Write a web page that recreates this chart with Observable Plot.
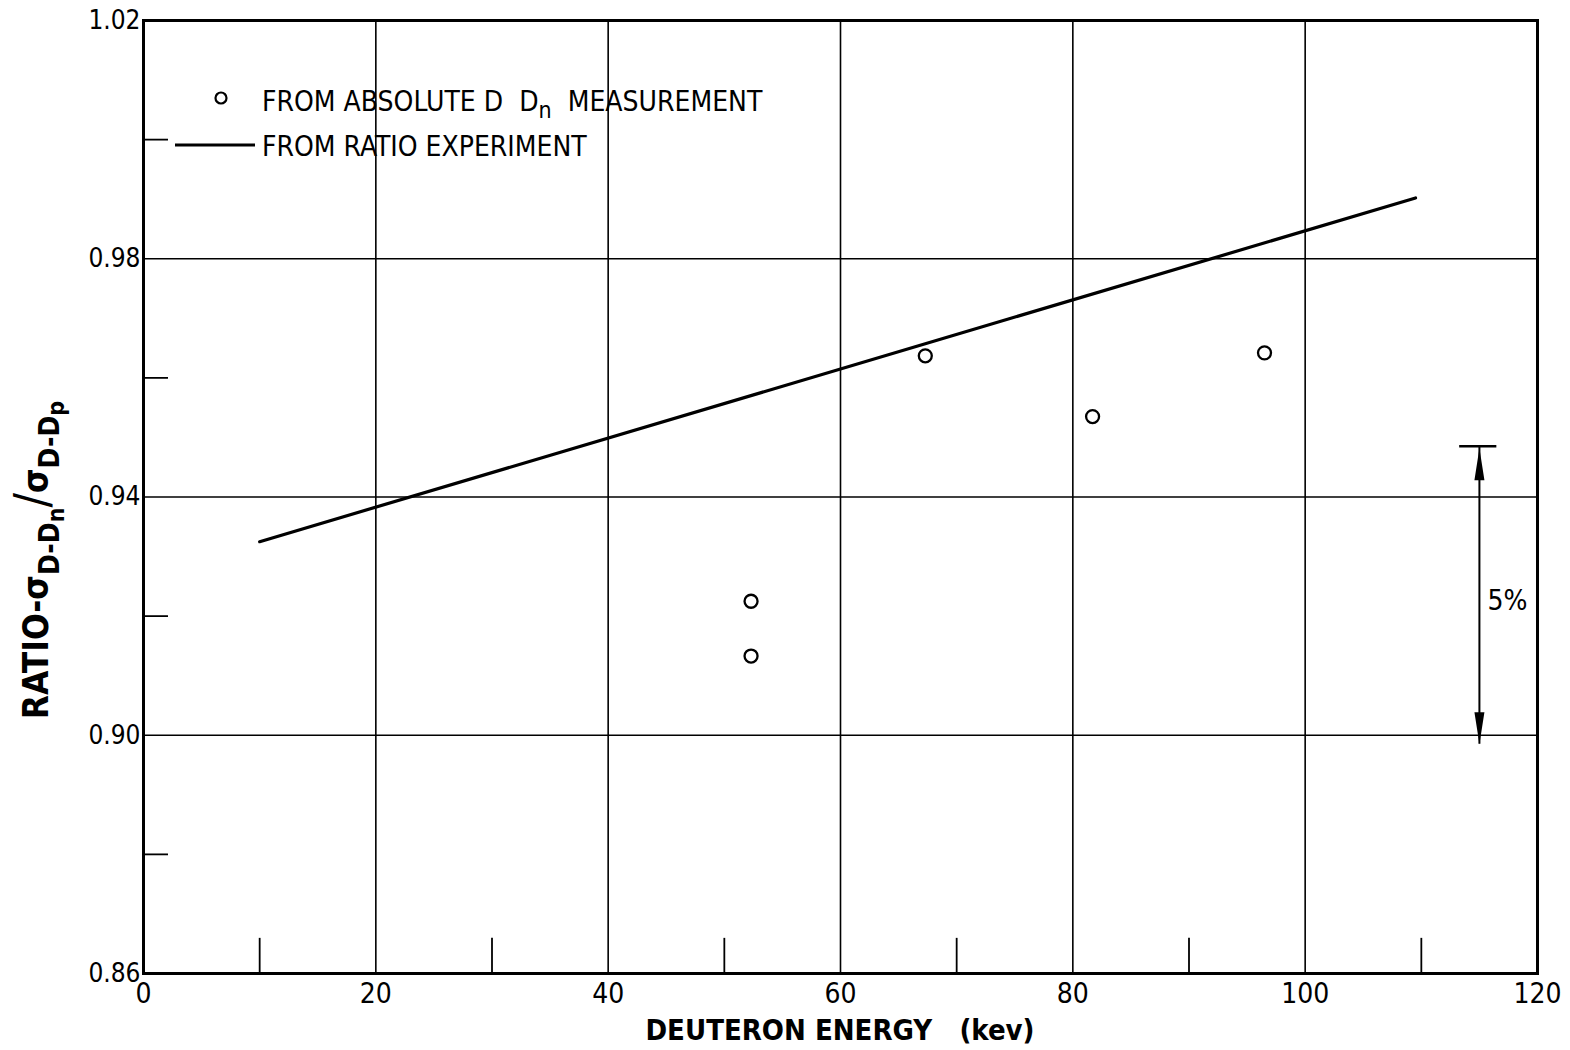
<!DOCTYPE html>
<html>
<head>
<meta charset="utf-8">
<script src="https://cdn.jsdelivr.net/npm/d3@7"></script>
<script src="https://cdn.jsdelivr.net/npm/@observablehq/plot@0.6"></script>
<style>
  html, body { margin: 0; padding: 0; background: #fff; }
  #chart { width: 1570px; height: 1050px; }
</style>
</head>
<body>
<div id="chart"></div>
<script>
// ---- data ----
const xTickValues = [0, 20, 40, 60, 80, 100, 120];
const yTickValues = [0.86, 0.90, 0.94, 0.98, 1.02];
const xGridValues = [20, 40, 60, 80, 100];
const yGridValues = [0.90, 0.94, 0.98];
const xMinorTicks = [10, 30, 50, 70, 90, 110];
const yMinorTicks = [0.88, 0.92, 0.96, 1.00];

const measuredEnergy = [52.3, 52.3, 67.3, 81.7, 96.5];
const measuredRatio  = [0.9225, 0.9133, 0.9637, 0.9535, 0.9642];

const ratioExpEnergy = [10, 109.5];
const ratioExpValue  = [0.9325, 0.9902];

const scaleBarEnergy = [115];
const scaleBarLow = [0.8985];
const scaleBarHigh = [0.9485];
const scaleBarLabel = ["5%"];

const legendLabels = ["FROM ABSOLUTE D\u00a0\u00a0D", "n", "\u00a0\u00a0MEASUREMENT", "FROM RATIO EXPERIMENT"];
const xAxisTitle = "DEUTERON ENERGY\u00a0\u00a0\u00a0(kev)";

// ---- tables ----
const measured = measuredEnergy.map((e, i) => ({energy: e, ratio: measuredRatio[i]}));
const ratioExp = ratioExpEnergy.map((e, i) => ({energy: e, ratio: ratioExpValue[i]}));
const scaleBar = scaleBarEnergy.map((e, i) => ({energy: e, lo: scaleBarLow[i], hi: scaleBarHigh[i], label: scaleBarLabel[i]}));

const FONT = "'DejaVu Sans Condensed', 'DejaVu Sans', sans-serif";

// narrow filled arrowhead, tip at origin pointing up
const arrowHead = {
  draw(context, size) {
    const L = 32, w = 5;
    context.moveTo(0, 0);
    context.lineTo(-w, L);
    context.lineTo(w, L);
    context.closePath();
  }
};

const mL = 143, mT = 20, mR = 33, mB = 77;

const chart = Plot.plot({
  width: 1570,
  height: 1050,
  marginLeft: mL,
  marginRight: mR,
  marginTop: mT,
  marginBottom: mB,
  style: {fontFamily: FONT, color: "#000", background: "#fff", overflow: "visible"},
  x: {domain: [0, 120]},
  y: {domain: [0.86, 1.02]},
  marks: [
    Plot.gridX(xGridValues, {stroke: "#000", strokeOpacity: 1, strokeWidth: 1.6}),
    Plot.gridY(yGridValues, {stroke: "#000", strokeOpacity: 1, strokeWidth: 1.6}),
    Plot.ruleX(xMinorTicks, {x: d => d, y1: 0.86, y2: 0.8659, stroke: "#000", strokeWidth: 1.8}),
    Plot.ruleY(yMinorTicks, {y: d => d, x1: 0, x2: 2.15, stroke: "#000", strokeWidth: 1.8}),
    Plot.frame({stroke: "#000", strokeWidth: 3}),
    Plot.axisX(xTickValues, {tickSize: 0, tickPadding: 10, fontSize: 28, label: null}),
    Plot.axisY(yTickValues, {tickSize: 0, tickPadding: 3, fontSize: 26, label: null, tickFormat: d3.format(".2f")}),
    Plot.line(ratioExp, {x: "energy", y: "ratio", stroke: "#000", strokeWidth: 3.2}),
    Plot.dot(measured, {x: "energy", y: "ratio", r: 6.5, stroke: "#000", strokeWidth: 2.3, fill: "#fff"}),
    // 5% scale bar
    Plot.ruleX(scaleBar, {x: "energy", y1: "lo", y2: "hi", stroke: "#000", strokeWidth: 2}),
    Plot.ruleY(scaleBar, {y: "hi", x1: d => d.energy - 1.7, x2: d => d.energy + 1.5, stroke: "#000", strokeWidth: 2.5}),
    Plot.dot(scaleBar, {x: "energy", y: "hi", symbol: arrowHead, fill: "#000", stroke: "none", dy: 2}),
    Plot.dot(scaleBar, {x: "energy", y: "lo", symbol: arrowHead, fill: "#000", stroke: "none", rotate: 180}),
    Plot.text(scaleBar, {x: "energy", y: d => (d.lo + d.hi) / 2 - 0.001, text: "label", textAnchor: "start", dx: 8, fontSize: 28})
  ]
});

document.getElementById("chart").appendChild(chart);

// ---- annotations (legend, axis titles) ----
const svg = d3.select(chart);

// legend
const lg = svg.append("g").attr("font-family", FONT).attr("fill", "#000").attr("text-anchor", "start");
lg.append("circle").attr("cx", mL + 78).attr("cy", mT + 78).attr("r", 5.5)
  .attr("fill", "#fff").attr("stroke", "#000").attr("stroke-width", 2.2);
const t1 = lg.append("text").attr("x", mL + 119).attr("y", mT + 91).attr("font-size", 28);
t1.append("tspan").text(legendLabels[0]);
t1.append("tspan").attr("dy", 7).attr("font-size", 23).text(legendLabels[1]);
t1.append("tspan").attr("dy", -7).text(legendLabels[2]);
lg.append("line").attr("x1", mL + 32).attr("x2", mL + 112).attr("y1", mT + 125).attr("y2", mT + 125)
  .attr("stroke", "#000").attr("stroke-width", 3);
lg.append("text").attr("x", mL + 119).attr("y", mT + 136).attr("font-size", 28).text(legendLabels[3]);

// x-axis title
svg.append("text").attr("x", 840).attr("y", 1040).attr("text-anchor", "middle")
  .attr("font-family", FONT).attr("font-size", 29).attr("font-weight", "bold")
  .text(xAxisTitle);

// y-axis title
const yl = svg.append("text").attr("transform", "translate(48,560) rotate(-90)")
  .attr("text-anchor", "middle").attr("font-family", FONT).attr("font-weight", "bold")
  .attr("font-size", 35);
yl.append("tspan").text("RATIO-\u03c3");
yl.append("tspan").attr("dy", 11).attr("font-size", 28).text("D-D");
yl.append("tspan").attr("dy", 5).attr("font-size", 23).text("n");
yl.append("tspan").attr("dy", -16).attr("font-size", 48).attr("font-weight", "normal").text("/");
yl.append("tspan").attr("font-size", 35).text("\u03c3");
yl.append("tspan").attr("dy", 11).attr("font-size", 28).text("D-D");
yl.append("tspan").attr("dy", 5).attr("font-size", 23).text("p");
</script>
</body>
</html>
